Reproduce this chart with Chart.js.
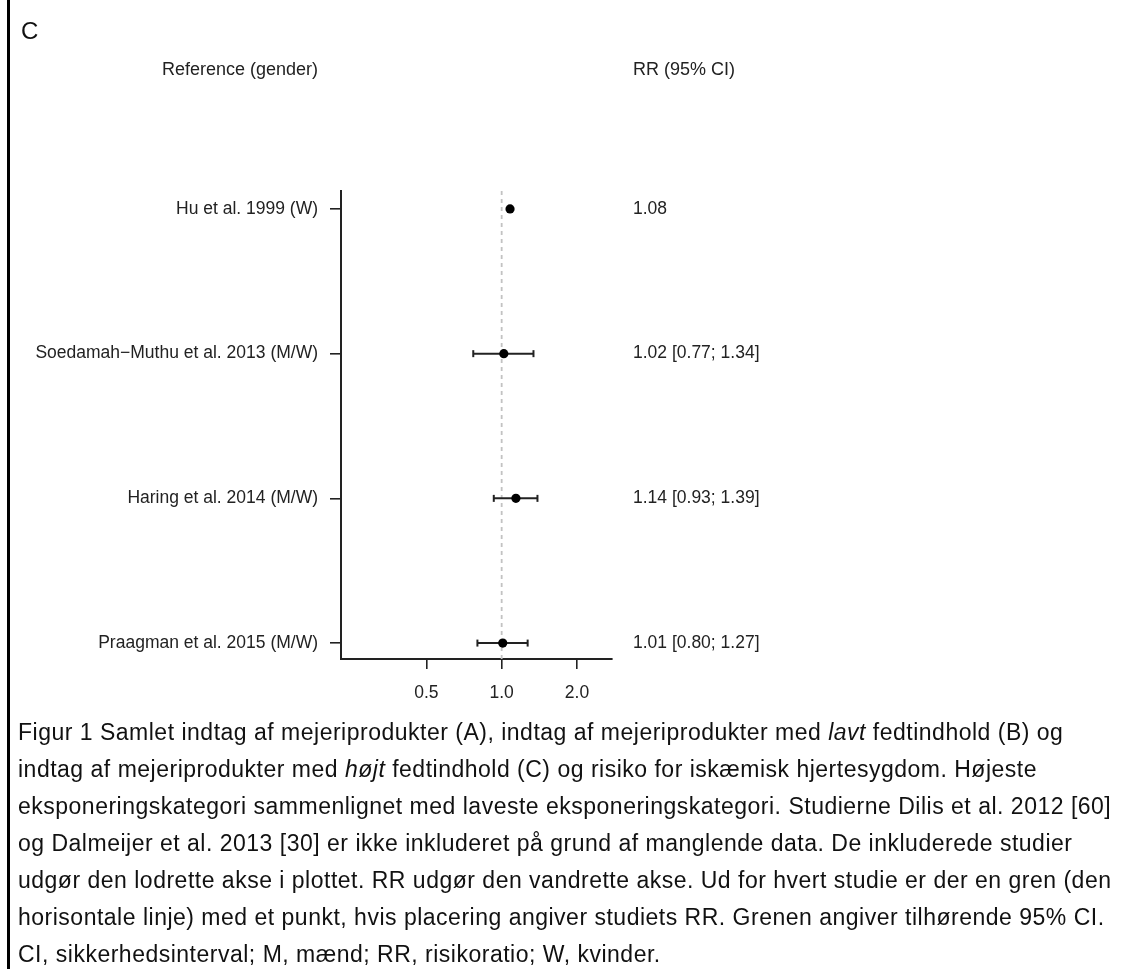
<!DOCTYPE html>
<html>
<head>
<meta charset="utf-8">
<script src="https://cdn.jsdelivr.net/npm/chart.js@4/dist/chart.umd.min.js"></script>
<style>
  body { margin: 0; background: #fff; font-family: "Liberation Sans", Arial, sans-serif; }
  #wrap { position: relative; width: 1138px; height: 969px; overflow: hidden; }
  #bar { position: absolute; left: 7px; top: 0; width: 3px; height: 969px; background: #000; }
  #panel { position: absolute; left: 21px; top: 17px; font-size: 24px; line-height: 28px; color: #111; }
  .hdr { position: absolute; top: 58px; font-size: 18px; line-height: 22px; color: #222; white-space: nowrap; }
  #chartbox { position: absolute; left: 0; top: 0; width: 870px; height: 715px; }
  #caption { position: absolute; left: 18px; top: 714px; font-size: 23px; line-height: 37px; letter-spacing: 0.5px; color: #111; }
  #caption div { white-space: nowrap; }
</style>
</head>
<body>
<div id="wrap">
  <div id="chartbox"><canvas id="forest" width="870" height="715"></canvas></div>
  <div id="bar"></div>
  <div id="panel">C</div>
  <div class="hdr" style="left:162px">Reference (gender)</div>
  <div class="hdr" style="left:633px">RR (95% CI)</div>
  <div id="caption">
    <div>Figur 1 Samlet indtag af mejeriprodukter (A), indtag af mejeriprodukter med <i>lavt</i> fedtindhold (B) og</div>
    <div>indtag af mejeriprodukter med <i>højt</i> fedtindhold (C) og risiko for iskæmisk hjertesygdom. Højeste</div>
    <div>eksponeringskategori sammenlignet med laveste eksponeringskategori. Studierne Dilis et al. 2012 [60]</div>
    <div>og Dalmeijer et al. 2013 [30] er ikke inkluderet på grund af manglende data. De inkluderede studier</div>
    <div>udgør den lodrette akse i plottet. RR udgør den vandrette akse. Ud for hvert studie er der en gren (den</div>
    <div>horisontale linje) med et punkt, hvis placering angiver studiets RR. Grenen angiver tilhørende 95% CI.</div>
    <div>CI, sikkerhedsinterval; M, mænd; RR, risikoratio; W, kvinder.</div>
  </div>
</div>
<script>
// study data
var studies = ['Hu et al. 1999 (W)', 'Soedamah\u2212Muthu et al. 2013 (M/W)', 'Haring et al. 2014 (M/W)', 'Praagman et al. 2015 (M/W)'];
var rr = [1.08, 1.02, 1.14, 1.01];
var ciLow = [null, 0.77, 0.93, 0.80];
var ciHigh = [null, 1.34, 1.39, 1.27];
var rrText = ['1.08', '1.02 [0.77; 1.34]', '1.14 [0.93; 1.39]', '1.01 [0.80; 1.27]'];
var xTicks = [0.5, 1.0, 2.0];

var rows = studies.map(function (s, i) { return i + 1; });
var yMin = 0.876, yMax = 4.11;
var ink = '#222';

var datasets = [];

// point estimates
datasets.push({
    data: rr.map(function (v, i) { return { x: v, y: rows[i] }; }),
    showLine: false,
    pointRadius: 4.6,
    pointBackgroundColor: '#000',
    pointBorderColor: '#000',
    pointBorderWidth: 0
});

// confidence intervals with end caps
rr.forEach(function (v, i) {
    if (ciLow[i] == null) return;
    datasets.push({
        data: [{ x: ciLow[i], y: rows[i] }, { x: ciHigh[i], y: rows[i] }],
        showLine: true,
        borderColor: ink,
        borderWidth: 2,
        pointStyle: 'line',
        rotation: 90,
        pointRadius: 3.5,
        pointBorderColor: ink,
        pointBorderWidth: 2
    });
});

// reference line at RR = 1 (last in list, so it is drawn underneath)
datasets.push({
    data: [{ x: 1, y: yMin }, { x: 1, y: yMax }],
    showLine: true,
    borderColor: '#c2c2c2',
    borderWidth: 1.8,
    borderDash: [4, 4],
    pointRadius: 0
});

function setRowTicks(scale) {
    scale.ticks = rows.map(function (r) { return { value: r }; });
}

var font = { family: '"Liberation Sans", Arial, sans-serif', size: 17.5 };

new Chart(document.getElementById('forest').getContext('2d'), {
    type: 'scatter',
    data: { datasets: datasets },
    options: {
        responsive: false,
        animation: false,
        events: [],
        layout: { padding: { top: 191, left: 0, right: 0, bottom: 0 } },
        plugins: { legend: { display: false }, tooltip: { enabled: false } },
        scales: {
            x: {
                type: 'logarithmic',
                min: 0.228,
                max: 2.76,
                afterBuildTicks: function (scale) {
                    scale.ticks = xTicks.map(function (v) { return { value: v }; });
                },
                afterFit: function (scale) { scale.height = 56; },
                ticks: {
                    autoSkip: false,
                    maxRotation: 0,
                    padding: 14,
                    color: ink,
                    font: font,
                    callback: function (v) { return Number(v).toFixed(1); }
                },
                grid: { drawOnChartArea: false, drawTicks: true, tickLength: 10, color: ink, lineWidth: 1.6 },
                border: { display: true, color: ink, width: 2 }
            },
            y: {
                type: 'linear',
                position: 'left',
                reverse: true,
                min: yMin,
                max: yMax,
                afterBuildTicks: setRowTicks,
                afterFit: function (scale) { scale.width = 341; },
                ticks: {
                    autoSkip: false,
                    padding: 12,
                    color: ink,
                    font: font,
                    callback: function (v, i) { return studies[i]; }
                },
                grid: { drawOnChartArea: false, drawTicks: true, tickLength: 11, color: ink, lineWidth: 1.6 },
                border: { display: true, color: ink, width: 2 }
            },
            y2: {
                type: 'linear',
                position: 'right',
                reverse: true,
                min: yMin,
                max: yMax,
                afterBuildTicks: setRowTicks,
                afterFit: function (scale) { scale.width = 258; },
                ticks: {
                    autoSkip: false,
                    padding: 21,
                    color: ink,
                    font: font,
                    callback: function (v, i) { return rrText[i]; }
                },
                grid: { display: false, drawTicks: false },
                border: { display: false }
            }
        }
    }
});
</script>
</body>
</html>
